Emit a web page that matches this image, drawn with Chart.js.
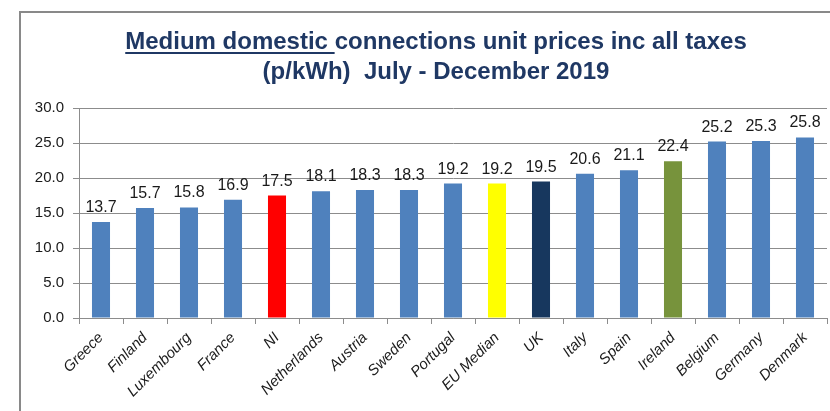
<!DOCTYPE html>
<html>
<head>
<meta charset="utf-8">
<script src="https://cdn.jsdelivr.net/npm/chart.js@4"></script>
<style>
  html, body { margin: 0; padding: 0; background: #fff; }
  #wrap { position: relative; width: 830px; height: 411px; overflow: hidden; }
  #frame { position: absolute; left: 19px; top: 11px; right: -10px; bottom: -10px;
           border-left: 2px solid #898989; border-top: 2px solid #898989; }
  .title { position: absolute; left: 42px; width: 788px; text-align: center;
           font-family: "Liberation Sans", Arial, sans-serif; font-weight: bold;
           font-size: 24px; line-height: 28px; color: #1F3864; white-space: pre; }
  .title u { text-decoration-thickness: 2px; text-underline-offset: 3px; }
  canvas { position: absolute; left: 0; top: 0; }
</style>
</head>
<body>
<div id="wrap">
  <div id="frame"></div>
  <canvas id="chart" width="830" height="411"></canvas>
  <div class="title" style="top:27px"><u>Medium domestic </u>connections unit prices inc all taxes</div>
  <div class="title" style="top:57px">(p/kWh)  July - December 2019</div>
</div>
<script>
  const countries = ['Greece', 'Finland', 'Luxembourg', 'France', 'NI', 'Netherlands', 'Austria',
    'Sweden', 'Portugal', 'EU Median', 'UK', 'Italy', 'Spain', 'Ireland', 'Belgium', 'Germany', 'Denmark'];
  const prices = [13.7, 15.7, 15.8, 16.9, 17.5, 18.1, 18.3, 18.3, 19.2, 19.2, 19.5, 20.6, 21.1, 22.4, 25.2, 25.3, 25.8];
  const barColors = ['#4F81BD', '#4F81BD', '#4F81BD', '#4F81BD', '#FF0000', '#4F81BD', '#4F81BD',
    '#4F81BD', '#4F81BD', '#FFFF00', '#17375E', '#4F81BD', '#4F81BD', '#77933C', '#4F81BD', '#4F81BD', '#4F81BD'];
  const yTicks = [0, 5, 10, 15, 20, 25, 30];

  // value labels above each bar
  const barLabels = {
    id: 'barLabels',
    afterDatasetsDraw(chart) {
      const ctx = chart.ctx;
      const meta = chart.getDatasetMeta(0);
      ctx.save();
      ctx.font = '16px "Liberation Sans", Arial, sans-serif';
      ctx.fillStyle = '#1a1a1a';
      ctx.textAlign = 'center';
      ctx.textBaseline = 'alphabetic';
      meta.data.forEach((bar, i) => {
        ctx.fillText(prices[i].toFixed(1), bar.x, bar.y - 10);
      });
      ctx.restore();
    }
  };

  new Chart(document.getElementById('chart'), {
    type: 'bar',
    data: {
      labels: countries,
      datasets: [{
        data: prices,
        backgroundColor: barColors,
        borderWidth: 0,
        categoryPercentage: 1,
        barPercentage: 0.41
      }]
    },
    options: {
      responsive: false,
      animation: false,
      layout: { padding: { top: 108, right: 3, left: 0, bottom: 0 } },
      plugins: { legend: { display: false }, tooltip: { enabled: false } },
      scales: {
        x: {
          afterFit: (scale) => { scale.height = 93; },
          grid: { drawOnChartArea: false, color: '#8c8c8c', tickLength: 6, offset: true },
          border: { color: '#8c8c8c' },
          ticks: {
            minRotation: 45, maxRotation: 45, autoSkip: false, padding: 5,
            color: '#1a1a1a',
            font: { family: '"Liberation Sans", Arial, sans-serif', size: 15, style: 'italic' }
          }
        },
        y: {
          min: 0, max: 30,
          afterFit: (scale) => { scale.width = 79; },
          afterBuildTicks: (scale) => { scale.ticks = yTicks.map(v => ({ value: v })); },
          grid: { color: '#8c8c8c', tickLength: 6 },
          border: { color: '#8c8c8c' },
          ticks: {
            padding: 9,
            color: '#1a1a1a',
            font: { family: '"Liberation Sans", Arial, sans-serif', size: 15 },
            callback: (v) => Number(v).toFixed(1)
          }
        }
      }
    },
    plugins: [barLabels]
  });
</script>
</body>
</html>
